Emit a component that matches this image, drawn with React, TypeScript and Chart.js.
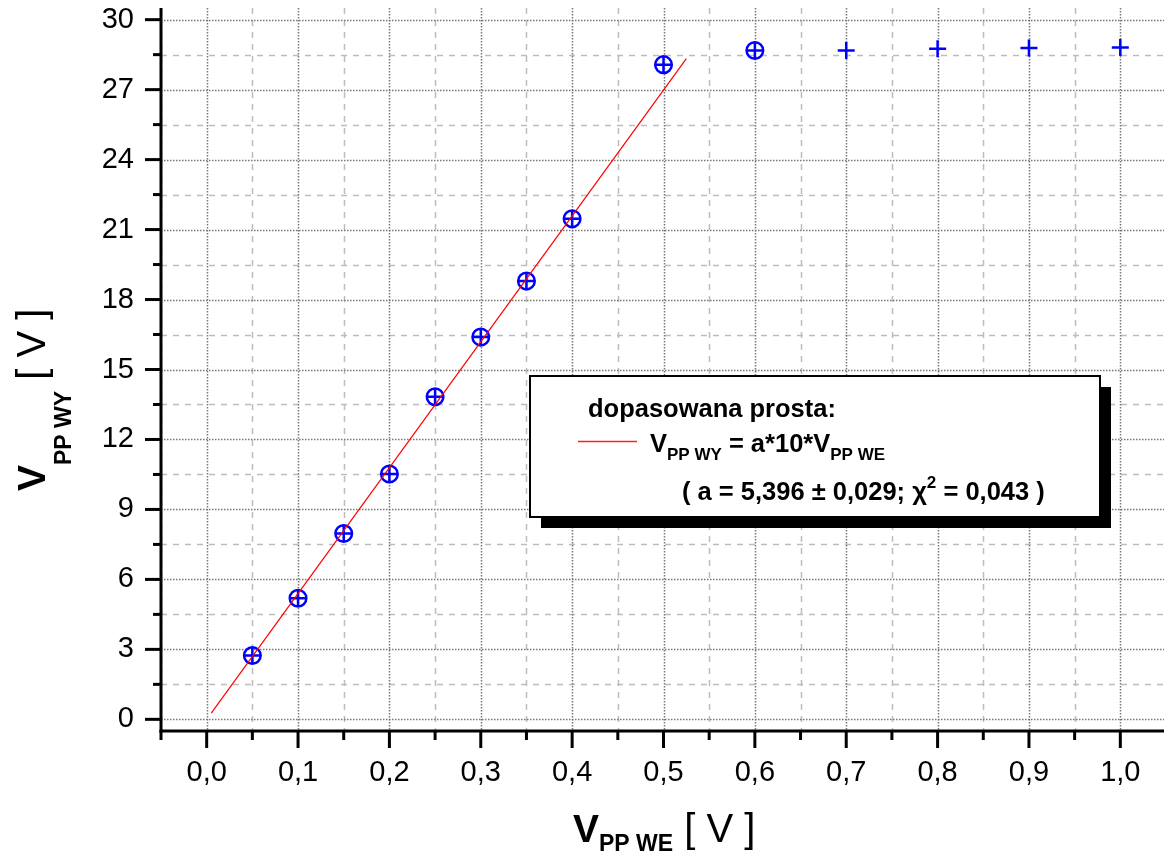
import React, { useEffect, useRef } from "react";
import { Chart, registerables } from "chart.js";

Chart.register(...registerables);

// ---- data ----
const xValues = [0.05, 0.1, 0.15, 0.2, 0.25, 0.3, 0.35, 0.4, 0.5, 0.6, 0.7, 0.8, 0.9, 1.0];
const yValues = [2.74, 5.19, 7.97, 10.52, 13.83, 16.39, 18.79, 21.46, 28.07, 28.68, 28.68, 28.75, 28.79, 28.81];
const circledCount = 10; // points marked with a circle (0.05 … 0.6)
const fitLineX = [0.005, 0.525];
const fitLineY = [0.27, 28.33];

const xMajorTicks = [0, 0.1, 0.2, 0.3, 0.4, 0.5, 0.6, 0.7, 0.8, 0.9, 1.0];
const xMinorTicks = [-0.05, 0.05, 0.15, 0.25, 0.35, 0.45, 0.55, 0.65, 0.75, 0.85, 0.95, 1.05];
const yMajorTicks = [0, 3, 6, 9, 12, 15, 18, 21, 24, 27, 30];
const yMinorTicks = [1.5, 4.5, 7.5, 10.5, 13.5, 16.5, 19.5, 22.5, 25.5, 28.5];

const legendTitle = "dopasowana prosta:";
const fitParams = "( a = 5,396 ± 0,029; χ";
const fitChi = " = 0,043 )";

const FONT = '"Liberation Sans", Arial, Helvetica, sans-serif';
const BLUE = "#0000ff";

type Seg = { t: string; f: string; dy?: number };

function drawSegs(ctx: CanvasRenderingContext2D, x: number, y: number, segs: Seg[]) {
  let cx = x;
  for (const s of segs) {
    ctx.font = s.f;
    ctx.fillText(s.t, cx, y + (s.dy || 0));
    cx += ctx.measureText(s.t).width;
  }
}

const decor = {
  id: "decor",
  beforeDatasetsDraw(chart: any) {
    const { ctx, chartArea: a, scales } = chart;
    const xs = scales.x, ys = scales.y;
    ctx.save();
    ctx.beginPath();
    ctx.rect(a.left, a.top, a.right - a.left, a.bottom - a.top);
    ctx.clip();
    const ln = (x1: number, y1: number, x2: number, y2: number) => {
      ctx.beginPath();
      ctx.moveTo(x1, y1);
      ctx.lineTo(x2, y2);
      ctx.stroke();
    };
    // minor grid (dashed, light)
    ctx.strokeStyle = "#bdbdbd";
    ctx.lineWidth = 1.5;
    ctx.setLineDash([6, 6]);
    for (const v of xMinorTicks) {
      const p = Math.round(xs.getPixelForValue(v)) + 0.5;
      ln(p, a.top, p, a.bottom);
    }
    for (const v of yMinorTicks) {
      const p = Math.round(ys.getPixelForValue(v)) + 0.5;
      ln(a.left, p, a.right, p);
    }
    // major grid (dotted, darker)
    ctx.strokeStyle = "#777777";
    ctx.lineWidth = 1.5;
    ctx.setLineDash([1.5, 1.5]);
    for (const v of xMajorTicks) {
      const p = Math.round(xs.getPixelForValue(v)) + 0.5;
      ln(p, a.top, p, a.bottom);
    }
    for (const v of yMajorTicks) {
      const p = Math.round(ys.getPixelForValue(v)) + 0.5;
      ln(a.left, p, a.right, p);
    }
    ctx.restore();
  },
  afterDatasetsDraw(chart: any) {
    const { ctx, chartArea: a, scales } = chart;
    const xs = scales.x, ys = scales.y;
    ctx.save();
    ctx.setLineDash([]);
    ctx.strokeStyle = "#000";
    ctx.lineCap = "butt";
    const ln = (x1: number, y1: number, x2: number, y2: number) => {
      ctx.beginPath();
      ctx.moveTo(x1, y1);
      ctx.lineTo(x2, y2);
      ctx.stroke();
    };
    ctx.lineWidth = 3;
    // axes
    ln(a.left, a.top, a.left, a.bottom + 1.5);
    ln(a.left - 1.5, a.bottom, a.right, a.bottom);
    // ticks
    for (const v of yMajorTicks) {
      const p = ys.getPixelForValue(v);
      ln(a.left - 16, p, a.left, p);
    }
    for (const v of yMinorTicks) {
      const p = ys.getPixelForValue(v);
      ln(a.left - 8, p, a.left, p);
    }
    for (const v of xMajorTicks) {
      const p = xs.getPixelForValue(v);
      ln(p, a.bottom, p, a.bottom + 17);
    }
    for (const v of xMinorTicks) {
      const p = xs.getPixelForValue(v);
      ln(p, a.bottom, p, a.bottom + 9);
    }

    // legend box with shadow
    const bx = 530, by = 376, bw = 570, bh = 141;
    ctx.fillStyle = "#000";
    ctx.fillRect(bx + 11, by + 11, bw, bh);
    ctx.fillStyle = "#fff";
    ctx.fillRect(bx, by, bw, bh);
    ctx.lineWidth = 2;
    ctx.strokeRect(bx, by, bw, bh);

    ctx.fillStyle = "#000";
    ctx.textBaseline = "alphabetic";
    ctx.textAlign = "left";
    const B = `bold 25.5px ${FONT}`;
    const Bs = `bold 17px ${FONT}`;
    drawSegs(ctx, 588, 417, [{ t: legendTitle, f: B }]);
    ctx.strokeStyle = "#ff2020";
    ctx.lineWidth = 1.5;
    ln(578, 441.5, 637, 441.5);
    drawSegs(ctx, 650, 452, [
      { t: "V", f: B },
      { t: "PP WY", f: Bs, dy: 8 },
      { t: " = a*10*V", f: B },
      { t: "PP WE", f: Bs, dy: 8 },
    ]);
    drawSegs(ctx, 682, 500, [
      { t: fitParams, f: B },
      { t: "2", f: Bs, dy: -12 },
      { t: fitChi, f: B },
    ]);

    // axis titles
    const TB = `bold 39px ${FONT}`;
    const TS = `bold 23px ${FONT}`;
    const TR = `40px ${FONT}`;
    drawSegs(ctx, 573, 842, [
      { t: "V", f: TB },
      { t: "PP WE", f: TS, dy: 9 },
      { t: " [ V ]", f: TR },
    ]);
    ctx.save();
    ctx.translate(45, 491);
    ctx.rotate(-Math.PI / 2);
    drawSegs(ctx, 0, 0, [
      { t: "V", f: TB },
      { t: "PP WY", f: TS, dy: 26 },
      { t: " [ V ]", f: TR },
    ]);
    ctx.restore();
    ctx.restore();
  },
};

const noPad = (s: any) => {
  s.paddingTop = 0;
  s.paddingBottom = 0;
  s.paddingLeft = 0;
  s.paddingRight = 0;
};

export default function App() {
  const ref = useRef<HTMLCanvasElement>(null);
  useEffect(() => {
    if (!ref.current) return;
    const allPts = xValues.map((x, i) => ({ x, y: yValues[i] }));
    const circPts = allPts.slice(0, circledCount);
    const fitPts = fitLineX.map((x, i) => ({ x, y: fitLineY[i] }));
    const chart = new Chart(ref.current, {
      type: "scatter",
      data: {
        datasets: [
          {
            type: "line",
            label: "fit",
            data: fitPts,
            borderColor: "#ff0000",
            borderWidth: 1.2,
            pointRadius: 0,
            fill: false,
          } as any,
          {
            label: "points",
            data: allPts,
            pointStyle: "cross",
            pointRadius: 8.5,
            pointBorderWidth: 2.5,
            borderColor: BLUE,
            backgroundColor: BLUE,
          },
          {
            label: "circled",
            data: circPts,
            pointStyle: "circle",
            pointRadius: 8.3,
            pointBorderWidth: 2.5,
            borderColor: BLUE,
            backgroundColor: "rgba(0,0,0,0)",
          },
        ],
      },
      options: {
        animation: false,
        responsive: false,
        maintainAspectRatio: false,
        layout: { autoPadding: false, padding: { top: 8, left: 0, right: 0, bottom: 0 } },
        plugins: { legend: { display: false }, tooltip: { enabled: false } },
        scales: {
          x: {
            type: "linear",
            min: -0.05,
            max: 1.05,
            grid: { display: false, drawTicks: false },
            border: { display: false },
            afterBuildTicks: (s: any) => {
              s.ticks = xMajorTicks.map((v) => ({ value: v }));
            },
            afterFit: (s: any) => {
              s.height = 124;
              noPad(s);
            },
            ticks: {
              autoSkip: false,
              maxRotation: 0,
              padding: 25,
              color: "#000",
              font: { family: FONT, size: 29 },
              callback: (v: any) => Number(v).toFixed(1).replace(".", ","),
            },
          },
          y: {
            type: "linear",
            min: -0.5,
            max: 30.5,
            grid: { display: false, drawTicks: false },
            border: { display: false },
            afterBuildTicks: (s: any) => {
              s.ticks = yMajorTicks.map((v) => ({ value: v }));
            },
            afterFit: (s: any) => {
              s.width = 161;
              noPad(s);
            },
            ticks: {
              autoSkip: false,
              padding: 27,
              color: "#000",
              font: { family: FONT, size: 29 },
              callback: (v: any) => String(v),
            },
          },
        },
      },
      plugins: [decor],
    });
    return () => chart.destroy();
  }, []);
  return (
    <div style={{ position: "fixed", left: 0, top: 0, width: 1164, height: 855, overflow: "hidden", background: "#fff" }}>
      <canvas ref={ref} width={1166} height={855} style={{ display: "block", width: 1166, height: 855 }} />
    </div>
  );
}
